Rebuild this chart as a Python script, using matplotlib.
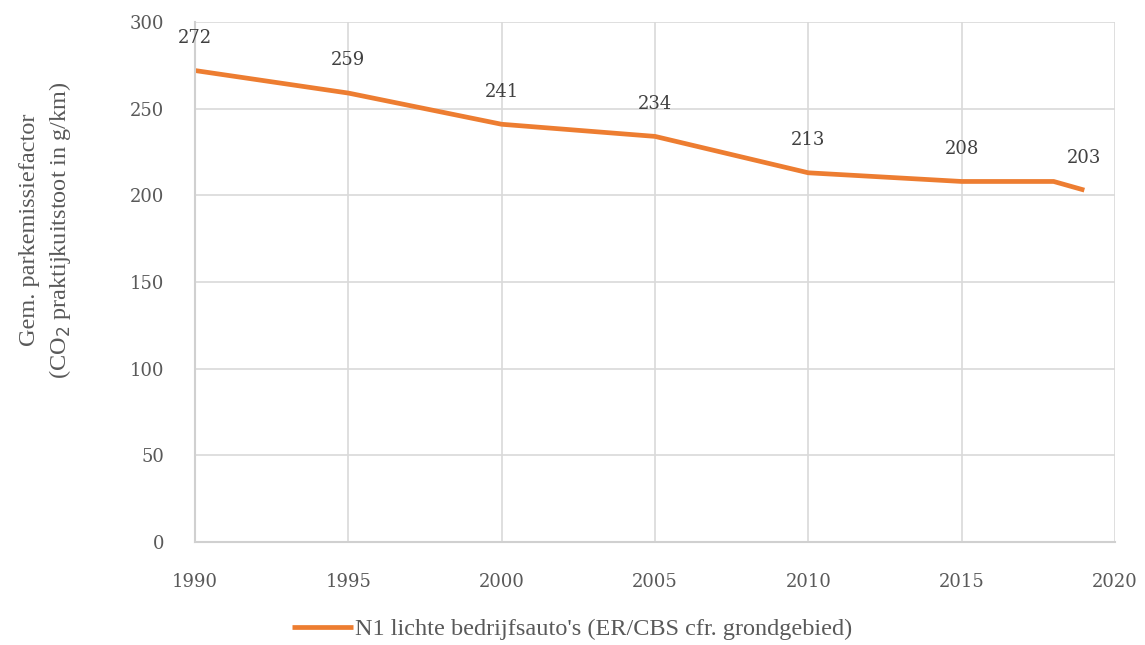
import matplotlib.pyplot as plt

plt.rcParams['font.family'] = ['Liberation Serif', 'DejaVu Serif']

# data
jaren = [1990, 1995, 2000, 2005, 2010, 2015, 2018, 2019]
uitstoot = [272, 259, 241, 234, 213, 208, 208, 203]
label_jaren = [1990, 1995, 2000, 2005, 2010, 2015, 2019]
label_waarden = [272, 259, 241, 234, 213, 208, 203]
x_ticks = [1990, 1995, 2000, 2005, 2010, 2015, 2020]
y_ticks = [0, 50, 100, 150, 200, 250, 300]

grijs = '#595959'
oranje = '#ED7D31'

fig = plt.figure(figsize=(11.45, 6.45), dpi=100)
ax = fig.add_axes([195/1145, 1 - 542/645, 920/1145, 520/645])

ax.plot(jaren, uitstoot, color=oranje, linewidth=3.4, solid_capstyle='butt',
        label="N1 lichte bedrijfsauto's (ER/CBS cfr. grondgebied)")

for j, w in zip(label_jaren, label_waarden):
    ax.annotate(str(w), (j, w), xytext=(0, 17), textcoords='offset points',
                ha='center', va='bottom', fontsize=13, color='#404040',
                family='DejaVu Serif')

ax.set_xlim(1990, 2020)
ax.set_ylim(0, 300)
ax.set_xticks(x_ticks)
ax.set_yticks(y_ticks)
ax.tick_params(length=0, labelsize=13, colors=grijs)
ax.tick_params(axis='y', pad=22)
ax.tick_params(axis='x', pad=22)
for t in ax.get_xticklabels() + ax.get_yticklabels():
    t.set_family('DejaVu Serif')
ax.grid(color='#d9d9d9', linewidth=1.2)
ax.set_axisbelow(True)
for s in ['top', 'right']:
    ax.spines[s].set_visible(False)
for s in ['left', 'bottom']:
    ax.spines[s].set_color('#d0d0d0')
    ax.spines[s].set_linewidth(1.5)

ax.set_ylabel('Gem. parkemissiefactor\n(CO$_2$ praktijkuitstoot in g/km)',
              fontsize=17.5, color=grijs, linespacing=1.35)
ax.yaxis.set_label_coords(-0.133, 0.6)

ax.legend(loc='upper center', bbox_to_anchor=(0.41, -0.105), frameon=False,
          fontsize=17.5, labelcolor=grijs, handlelength=2.5, handletextpad=0.1)

fig.savefig('out.png', dpi=100)
